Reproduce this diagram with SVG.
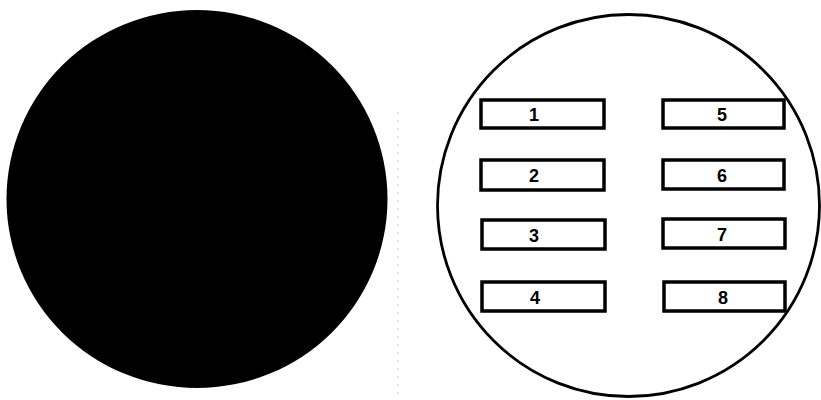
<svg xmlns="http://www.w3.org/2000/svg" width="821" height="400" viewBox="0 0 821 400">
<style>
.box{fill:#fff;stroke:#000;stroke-width:3.5}
.lbl{font-family:"Liberation Sans",Arial,sans-serif;font-weight:bold;font-size:18px;text-anchor:middle;fill:#000}
</style>
<rect width="821" height="400" fill="#fff"/>
<g id="left-disc"><ellipse cx="197" cy="199" rx="190.5" ry="189" fill="#000"/></g>
<line x1="398" y1="112" x2="398" y2="400" stroke="#bbb" stroke-width="1" stroke-dasharray="2,6"/>
<g id="right-disc"><circle cx="628.5" cy="205.5" r="191" fill="#fff" stroke="#000" stroke-width="2.8"/></g>
<g id="b1"><rect class="box" x="481" y="100" width="123" height="28"/><text class="lbl" x="534" y="121">1</text></g>
<g id="b2"><rect class="box" x="481" y="160" width="123" height="30"/><text class="lbl" x="534" y="182">2</text></g>
<g id="b3"><rect class="box" x="482" y="220" width="123" height="29"/><text class="lbl" x="534" y="242">3</text></g>
<g id="b4"><rect class="box" x="482" y="282" width="123" height="29"/><text class="lbl" x="535" y="304">4</text></g>
<g id="b5"><rect class="box" x="663" y="100" width="121" height="28"/><text class="lbl" x="722" y="121">5</text></g>
<g id="b6"><rect class="box" x="663" y="160" width="121" height="29"/><text class="lbl" x="722" y="182">6</text></g>
<g id="b7"><rect class="box" x="663" y="219" width="122" height="29"/><text class="lbl" x="722" y="241">7</text></g>
<g id="b8"><rect class="box" x="664" y="282" width="121" height="29"/><text class="lbl" x="723" y="304">8</text></g>
</svg>
